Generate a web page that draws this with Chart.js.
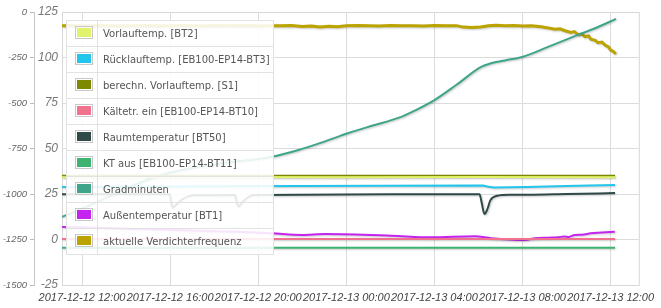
<!DOCTYPE html>
<html>
<head>
<meta charset="utf-8">
<script src="https://cdn.jsdelivr.net/npm/chart.js@4"></script>
<style>
  html, body { margin: 0; padding: 0; background: #fff; }
  #chart { display: block; }
</style>
</head>
<body>
<canvas id="chart" width="661" height="308"></canvas>
<script>
// Time axis is in hours counted from 2017-12-12 00:00
const timeTicks = [12, 16, 20, 24, 28, 32, 36];
const timeLabels = ['2017-12-12 12:00', '2017-12-12 16:00', '2017-12-12 20:00', '2017-12-13 00:00',
  '2017-12-13 04:00', '2017-12-13 08:00', '2017-12-13 12:00'];
const leftTicks = [-25, 0, 25, 50, 75, 100, 125];
const outerTicks = [-1500, -1250, -1000, -750, -500, -250, 0];

const seriesNames = ['Vorlauftemp. [BT2]', 'Rücklauftemp. [EB100-EP14-BT3]', 'berechn. Vorlauftemp. [S1]',
  'Kältetr. ein [EB100-EP14-BT10]', 'Raumtemperatur [BT50]', 'KT aus [EB100-EP14-BT11]',
  'Gradminuten', 'Außentemperatur [BT1]', 'aktuelle Verdichterfrequenz'];

// Vorlauftemp. [BT2]
const vorlaufT = [11.09, 18, 24, 30, 36.2];
const vorlaufV = [34.2, 34.3, 34.2, 34.3, 34.2];

// Rücklauftemp.
const ruecklaufT = [11.09, 14, 18, 22, 26, 30.2, 30.45, 30.7, 32.2, 34, 36.2];
const ruecklaufV = [28.8, 29.0, 29.2, 29.4, 29.6, 29.7, 29.0, 28.6, 28.9, 29.4, 29.9];

// berechn. Vorlauftemp.
const berechnT = [11.09, 36.2];
const berechnV = [35.0, 35.0];

// Kältetr. ein
const kaeltT = [11.09, 24, 36.2];
const kaeltV = [0.3, 0.3, 0.3];

// Raumtemperatur
const raumT = [11.09, 13, 15, 15.98, 16.05, 16.12, 16.3, 16.6, 17.07, 18.95, 19.02, 19.1, 19.25, 19.5, 19.8,
  22, 26, 30.05, 30.15, 30.27, 30.4, 30.54, 30.85, 31.4, 32.25, 34, 36.2];
const raumV = [24.9, 24.8, 24.8, 24.8, 20.5, 17.5, 19.5, 22.5, 24.3, 24.5, 20.5, 18.0, 20.2, 22.8, 24.4,
  24.6, 24.8, 24.8, 20.0, 14.0, 16.5, 21.5, 24.0, 24.6, 24.6, 25.0, 25.5];

// KT aus
const ktAusT = [11.09, 24, 36.2];
const ktAusV = [-4.5, -4.5, -4.5];

// Gradminuten (outer axis)
const gradT = [11.09, 12, 13, 14, 15, 16, 17, 18, 19, 20, 20.56, 21.83, 23, 24.1, 25.2, 26.36, 27.2, 28.0,
  29.0, 30.12, 30.57, 31.2, 31.98, 33.16, 34.51, 35.4, 36.24];
const gradV = [-1126, -1080, -1025, -970, -920, -882, -857, -838, -822, -808, -797, -758, -712, -665, -624,
  -582, -536, -484, -400, -302, -282, -266, -247, -192, -126, -84, -38];

// Außentemperatur
const aussenT = [11.09, 13, 15, 17, 19, 20.61, 21.97, 23.05, 26.04, 27.85, 29.85, 30.57, 32.11, 32.57,
  33.2, 33.61, 33.9, 34.1, 34.38, 34.7, 35.1, 35.6, 36.19];
const aussenV = [6.9, 6.3, 5.6, 4.9, 4.2, 3.4, 2.5, 3.0, 2.1, 1.2, 1.8, 0.7, -0.3, 0.7,
  1.0, 1.2, 1.7, 1.4, 2.5, 2.6, 3.4, 3.8, 4.3];

// aktuelle Verdichterfrequenz
const verdT = [11.09, 11.5, 12, 12.5, 13, 13.5, 14, 14.5, 15, 15.5, 16, 16.5, 17, 17.5, 18, 18.5, 19, 19.5,
  20, 20.5, 21, 21.5, 22, 22.4, 22.8, 23.2, 23.6, 24, 24.5, 25, 25.5, 26, 26.5, 27, 27.5, 28, 28.5, 29,
  29.3, 29.7, 30.1, 30.45, 30.8, 31.2, 31.6, 32, 32.4, 32.84, 33.1, 33.47, 33.7, 33.93, 34.2, 34.35,
  34.51, 34.7, 34.83, 35.0, 35.1, 35.3, 35.42, 35.6, 35.74, 35.9, 36.0, 36.12, 36.24];
const verdV = [117.4, 117.6, 117.3, 117.5, 117.6, 117.3, 117.5, 117.4, 117.6, 117.3, 117.5, 117.6, 117.4,
  117.3, 117.6, 117.5, 117.4, 117.6, 117.3, 117.5, 117.4, 117.6, 117.0, 117.3, 116.8, 117.2, 116.9, 117.4,
  117.6, 117.5, 117.3, 117.6, 117.4, 117.5, 117.3, 117.6, 117.4, 117.5, 116.7, 116.5, 116.8, 117.5, 117.7,
  117.4, 117.6, 117.3, 117.5, 116.9, 116.4, 115.5, 115.8, 114.7, 113.8, 114.2, 112.7, 112.9, 111.4, 111.8,
  110.0, 109.4, 108.1, 108.5, 106.9, 105.8, 104.1, 103.3, 101.9];

const colors = ['#e0f36a', '#22c6ec', '#7d8a00', '#f0728f', '#2f4a48', '#3cb371',
  '#3fa58a', '#c524ef', '#bba300'];

const axisFont = (size) => ({ family: "'Liberation Sans', Arial, sans-serif", size: size, style: 'italic' });

const toPoints = (ts, vs) => ts.map((t, i) => ({ x: t, y: vs[i] }));

function makeDataset(idx, ts, vs, extra) {
  return Object.assign({
    label: seriesNames[idx],
    data: toPoints(ts, vs),
    borderColor: colors[idx],
    backgroundColor: colors[idx],
    borderWidth: 2,
    pointRadius: 0,
    fill: false,
    yAxisID: 'y'
  }, extra || {});
}

// Legend box laid over the plot, dygraph style
const overlayLegend = {
  id: 'overlayLegend',
  afterDatasetsDraw(chart) {
    const ctx = chart.ctx;
    const area = chart.chartArea;
    const x0 = area.left + 4, x1 = 273, top = area.top + 8, rowH = 26;
    const sets = chart.data.datasets;
    ctx.save();
    ctx.fillStyle = 'rgba(255,255,255,0.88)';
    ctx.fillRect(x0, top, x1 - x0, rowH * sets.length);
    ctx.strokeStyle = '#e2e2e2';
    ctx.lineWidth = 1;
    ctx.strokeRect(x0 + 0.5, top + 0.5, x1 - x0, rowH * sets.length);
    ctx.beginPath();
    ctx.moveTo(97.5, top);
    ctx.lineTo(97.5, top + rowH * sets.length);
    for (let i = 1; i < sets.length; i++) {
      ctx.moveTo(x0, top + i * rowH + 0.5);
      ctx.lineTo(x1, top + i * rowH + 0.5);
    }
    ctx.stroke();
    ctx.font = "10px 'DejaVu Sans', sans-serif";
    ctx.textBaseline = 'middle';
    sets.forEach((ds, i) => {
      const ry = top + i * rowH;
      ctx.strokeStyle = '#c8c8c8';
      ctx.strokeRect(75.5, ry + 6.5, 17, 12);
      ctx.fillStyle = ds.borderColor;
      ctx.fillRect(77, ry + 8, 14, 9);
      ctx.fillStyle = '#555';
      ctx.fillText(ds.label, 103, ry + rowH / 2 + 1);
    });
    ctx.restore();
  }
};

// Light frame round the plot and a soft shadow under the lines
const plotFrame = {
  id: 'plotFrame',
  beforeDatasetsDraw(chart) {
    const ctx = chart.ctx;
    const a = chart.chartArea;
    ctx.save();
    ctx.strokeStyle = '#d8d8d8';
    ctx.lineWidth = 1;
    ctx.strokeRect(a.left + 0.5, a.top + 0.5, a.right - a.left, a.bottom - a.top);
    ctx.restore();
    ctx.save();
    ctx.shadowColor = 'rgba(0,0,0,0.22)';
    ctx.shadowBlur = 2;
    ctx.shadowOffsetX = 1;
    ctx.shadowOffsetY = 1;
  },
  afterDatasetsDraw(chart) {
    chart.ctx.restore();
  }
};

const ctx = document.getElementById('chart').getContext('2d');
new Chart(ctx, {
  type: 'line',
  data: {
    datasets: [
      makeDataset(0, vorlaufT, vorlaufV),
      makeDataset(1, ruecklaufT, ruecklaufV),
      makeDataset(2, berechnT, berechnV),
      makeDataset(3, kaeltT, kaeltV),
      makeDataset(4, raumT, raumV, { cubicInterpolationMode: 'monotone' }),
      makeDataset(5, ktAusT, ktAusV),
      makeDataset(6, gradT, gradV, { yAxisID: 'y2', cubicInterpolationMode: 'monotone' }),
      makeDataset(7, aussenT, aussenV, { cubicInterpolationMode: 'monotone' }),
      makeDataset(8, verdT, verdV, { borderWidth: 3 })
    ]
  },
  options: {
    responsive: false,
    animation: false,
    devicePixelRatio: 1,
    layout: { padding: { left: 0, right: 20, top: 12, bottom: 0 } },
    plugins: {
      legend: { display: false },
      tooltip: { enabled: false }
    },
    scales: {
      x: {
        type: 'linear',
        min: 11.09,
        max: 37.28,
        afterBuildTicks: (axis) => { axis.ticks = timeTicks.map(v => ({ value: v })); },
        afterFit: (axis) => { axis.height = 23; },
        grid: { color: '#dcdcdc', drawTicks: false },
        border: { color: '#cfcfcf' },
        ticks: {
          padding: 6,
          maxRotation: 0,
          autoSkip: false,
          color: '#444',
          font: axisFont(11),
          callback: (v) => timeLabels[timeTicks.indexOf(v)]
        }
      },
      y: {
        position: 'left',
        min: -25,
        max: 125,
        afterBuildTicks: (axis) => { axis.ticks = leftTicks.map(v => ({ value: v })); },
        afterFit: (axis) => { axis.width = 28; },
        grid: { color: '#dcdcdc', drawTicks: false },
        border: { color: '#cfcfcf' },
        ticks: {
          padding: 4,
          color: '#777',
          font: axisFont(12),
          callback: (v) => String(v)
        }
      },
      y2: {
        position: 'left',
        min: -1500,
        max: 0,
        afterBuildTicks: (axis) => { axis.ticks = outerTicks.map(v => ({ value: v })); },
        afterFit: (axis) => { axis.width = 34; },
        grid: { drawOnChartArea: false, drawTicks: true, tickLength: 4, tickColor: '#bbb' },
        border: { color: '#c8c8c8' },
        ticks: {
          padding: 3,
          color: '#666',
          font: axisFont(9.5),
          callback: (v) => String(v)
        }
      }
    }
  },
  plugins: [plotFrame, overlayLegend]
});
</script>
</body>
</html>
